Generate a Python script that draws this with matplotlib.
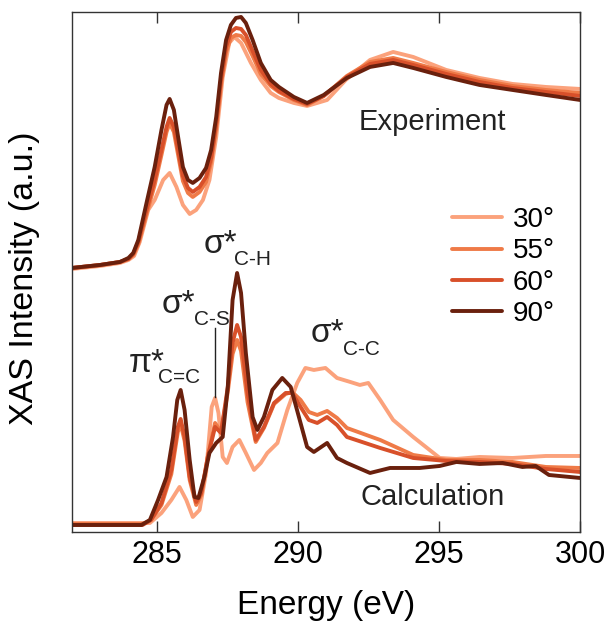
import numpy as np
import matplotlib
matplotlib.use("Agg")
import matplotlib.pyplot as plt

plt.rcParams['font.family'] = ['Liberation Sans', 'DejaVu Sans']

# polarisation angles and their colours
angles = ['30°', '55°', '60°', '90°']
colors = ['#fba27c', '#ef7a47', '#d8502a', '#6a200d']

# ---- experiment: energy (eV) and intensity (a.u., offset upward) ----
exp_energy = [282.0, 283.0, 283.7, 284.0, 284.17, 284.35, 284.64, 284.93, 285.17, 285.35,
              285.46, 285.61, 285.76, 285.93, 286.11, 286.28, 286.52, 286.75, 286.93, 287.11,
              287.28, 287.46, 287.63, 287.81, 287.99, 288.16, 288.4, 288.69, 289.04, 289.33,
              289.86, 290.33, 290.92, 291.74, 292.56, 293.38, 294.09, 295.26, 296.44, 297.61,
              298.79, 300.0]
exp_30_e = [282.0, 283.0, 283.7, 284.0, 284.2, 284.4, 284.7, 284.93, 285.23, 285.46,
            285.70, 285.93, 286.17, 286.4, 286.64, 286.87, 287.11, 287.34, 287.57, 287.75,
            287.99, 288.34, 288.69, 289.04, 289.33, 289.86, 290.33, 291.04, 291.7, 292.56,
            293.38, 294.09, 295.26, 296.44, 297.61, 298.79, 300.0]
exp_30 = [263, 266, 269, 272, 276, 290, 322, 332, 352, 359,
          345, 327, 318, 322, 332, 352, 395, 455, 489, 495,
          489, 469, 452, 439, 434, 429, 426, 432, 452, 472,
          480, 475, 462, 454, 448, 445, 443]
exp_55 = [264, 267, 270, 273, 277, 288, 318, 347, 377, 400,
          409, 400, 377, 351, 339, 335, 340, 350, 370, 404,
          448, 480, 494, 497, 496, 490, 476, 458, 446, 440,
          432, 427, 436, 456, 470, 474, 469, 460, 452, 446,
          442, 439]
exp_60 = [264, 267, 270, 273, 278, 290, 322, 352, 382, 405,
          414, 405, 382, 356, 344, 340, 345, 355, 374, 408,
          452, 485, 500, 504, 503, 497, 481, 462, 448, 441,
          433, 428, 436, 455, 468, 472, 467, 458, 450, 444,
          440, 436]
exp_90 = [264, 267, 270, 274, 279, 292, 329, 365, 402, 427,
          433, 422, 395, 365, 352, 349, 354, 364, 382, 415,
          459, 492, 507, 514, 515, 509, 492, 469, 452, 445,
          435, 429, 437, 454, 465, 469, 464, 455, 447, 442,
          437, 432]

# ---- calculation ----
calc_30_e = [282.0, 284.76, 285.17, 285.52, 285.81, 286.05, 286.28, 286.52, 286.75, 286.95,
             287.07, 287.19, 287.34, 287.49, 287.69, 287.93, 288.16, 288.45, 288.69, 288.92,
             289.28, 289.63, 289.98, 290.27, 290.57, 290.98, 291.39, 291.86, 292.2, 292.5,
             292.92, 293.38, 294.09, 295.03, 295.62, 296.44, 297.61, 298.79, 300.0]
calc_30 = [9, 9, 19, 32, 45, 32, 15, 22, 59, 125,
           134, 119, 75, 69, 85, 92, 79, 62, 69, 79,
           89, 122, 149, 164, 162, 164, 154, 150, 147, 149,
           132, 112, 95, 74, 73, 75, 74, 76, 76]
calc_mid_e = [282.0, 284.5, 284.8, 285.17, 285.52, 285.75, 285.85, 285.99, 286.17, 286.4,
              286.58, 286.81, 287.07, 287.28, 287.52, 287.69, 287.85, 287.99, 288.22, 288.51,
              288.8, 289.16, 289.57, 289.8, 290.1, 290.39, 290.69, 291.04, 291.39, 291.74,
              292.92, 294.09, 295.26, 296.44, 297.61, 298.79, 300.0]
calc_55 = [8, 8, 12, 27, 58, 100, 108, 91, 52, 27,
           37, 75, 109, 100, 140, 178, 192, 181, 130, 90,
           104, 128, 138, 140, 132, 120, 117, 121, 114, 104,
           92, 77, 72, 72, 70, 65, 64]
calc_60 = [7, 7, 12, 29, 62, 105, 113, 95, 55, 30,
           39, 75, 105, 99, 145, 189, 207, 195, 139, 92,
           105, 129, 139, 139, 125, 112, 109, 115, 107, 95,
           84, 74, 71, 70, 68, 63, 60]
calc_90_e = [282.0, 284.46, 284.76, 285.05, 285.35, 285.58, 285.73, 285.85, 285.99, 286.17,
             286.34, 286.48, 286.69, 286.87, 287.11, 287.34, 287.52, 287.69, 287.85, 287.99,
             288.16, 288.4, 288.57, 288.8, 289.1, 289.45, 289.75, 290.04, 290.33, 290.57,
             291.04, 291.39, 291.74, 292.56, 293.27, 294.32, 295.03, 295.62, 296.44, 297.26,
             297.96, 298.43, 298.9, 300.0]
calc_90 = [7, 7, 12, 32, 55, 95, 132, 142, 122, 72,
           35, 34, 55, 79, 89, 95, 145, 232, 259, 239,
           179, 115, 102, 115, 142, 154, 145, 115, 85, 80,
           89, 74, 69, 59, 64, 64, 66, 70, 68, 69,
           65, 66, 57, 54]

experiment = [(exp_30_e, exp_30), (exp_energy, exp_55), (exp_energy, exp_60), (exp_energy, exp_90)]
calculation = [(calc_30_e, calc_30), (calc_mid_e, calc_55), (calc_mid_e, calc_60), (calc_90_e, calc_90)]

fig = plt.figure(figsize=(6.06, 6.26), dpi=100)
ax = fig.add_axes([0.1188, 0.1502, 0.8383, 0.8307])

for a, c, (ex, ey), (cx, cy) in zip(angles, colors, experiment, calculation):
    ax.plot(ex, ey, color=c, lw=2.8, solid_joinstyle='round', solid_capstyle='round')
    ax.plot(cx, cy, color=c, lw=2.8, solid_joinstyle='round', solid_capstyle='round', label=a)

ax.set_xlim(282, 300)
ax.set_ylim(0, 520)
ax.set_xticks([285, 290, 295, 300])
ax.set_yticks([])
ax.tick_params(axis='x', direction='in', top=True, length=8, width=1,
               labelsize=22, pad=6, color='#333333')
for s in ax.spines.values():
    s.set_linewidth(1)
    s.set_color('#333333')

ax.set_xlabel('Energy (eV)', fontsize=24, labelpad=14)
ax.set_ylabel('XAS Intensity (a.u.)', fontsize=24.5)
ax.yaxis.set_label_coords(-0.063, 0.487)

ax.text(0.709, 410, 'Experiment', transform=ax.get_yaxis_transform(),
        ha='center', va='center', fontsize=21, color='#222222')
ax.text(0.709, 35, 'Calculation', transform=ax.get_yaxis_transform(),
        ha='center', va='center', fontsize=21, color='#222222')

# peak labels: main symbol, subscript
peaks = [('σ*', 'C-H', 286.68, 279, 287.75, 267),
         ('σ*', 'C-S', 285.17, 219, 286.33, 207),
         ('π*', 'C=C', 284.01, 160, 285.06, 149),
         ('σ*', 'C-C', 290.45, 190, 291.61, 177)]
for big, sub, x1, y1, x2, y2 in peaks:
    ax.text(x1, y1, big, fontsize=24, va='baseline', ha='left', color='#222222')
    ax.text(x2, y2, sub, fontsize=15, va='baseline', ha='left', color='#222222')
ax.plot([287.07, 287.07], [135, 204], color='#222222', lw=1)

ax.legend(loc='upper left', bbox_to_anchor=(0.748, 0.625), frameon=False,
          fontsize=20, handlelength=1.8, handletextpad=0.4, labelspacing=0.19,
          borderpad=0, borderaxespad=0)

fig.savefig('out.png', dpi=100)
